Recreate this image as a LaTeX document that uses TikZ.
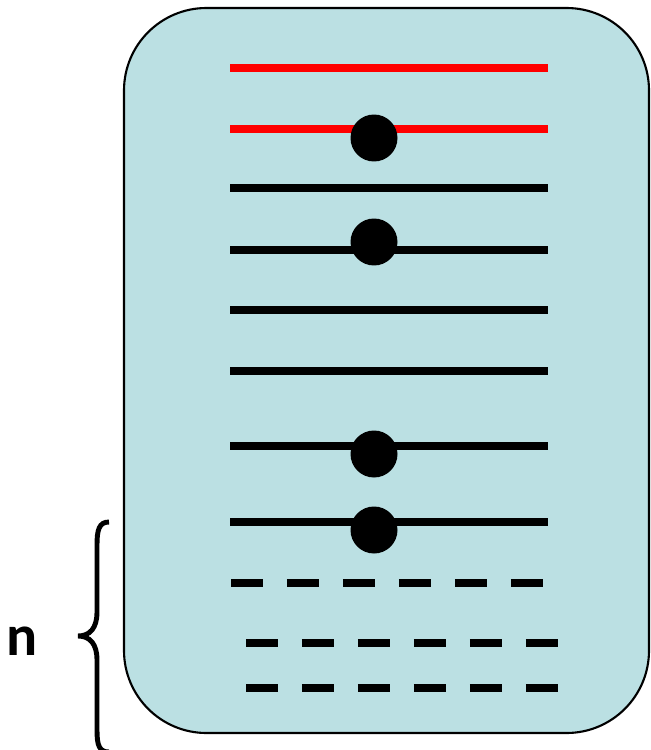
\documentclass[tikz,border=0pt]{standalone}
\usepackage{fontspec}
\newfontfamily\labelfont{Carlito}
\usetikzlibrary{calc}
\definecolor{boxfill}{RGB}{187,224,227}
\newcommand{\wire}[2]{ \draw[#1, line width=4.4pt] ( 230 , #2 ) -- ( 548 , #2 );}
\newcommand{\bead}[1]{ \fill[black] ( 374 , #1 ) circle[radius=0.47cm];}
\newcommand{\gapwire}[2]{ \draw[line width=4.4pt, dash pattern=on 0.64cm off 0.48cm] ( #1 , #2 ) -- ( #1 + 312 , #2 );}

\begin{document}
\begin{tikzpicture}[x=0.02cm, y=-0.02cm]
    \useasboundingbox (0,0) rectangle (650,750);
    % box
    \draw[fill=boxfill, line width=1.2pt, rounded corners=1.65cm] (124,8) rectangle (649,733);
    % red wires
    \wire{red}{68}
    \wire{red}{129}
    % black wires
    \wire{black}{188}
    \wire{black}{250}
    \wire{black}{310}
    \wire{black}{371}
    \wire{black}{446}
    \wire{black}{522}
    % beads
    \bead{138}
    \bead{242}
    \bead{454}
    \bead{530}
    % dashed wires
    \gapwire{231}{583}
    \gapwire{246}{643}
    \gapwire{246}{688}
    % brace
    \draw[line width=2.8pt] (109,522) .. controls (99,522) and (97,530) .. (97,545) -- (97,612)
        .. controls (97,628) and (90,636) .. (78,636) .. controls (90,636) and (97,644) .. (97,660)
        -- (97,730) .. controls (97,745) and (99,752) .. (109,752);
    \node[anchor=base, inner sep=0pt, font=\labelfont\bfseries\fontsize{33}{36}\selectfont] (n) at (22,655) {n};
\end{tikzpicture}
\end{document}
